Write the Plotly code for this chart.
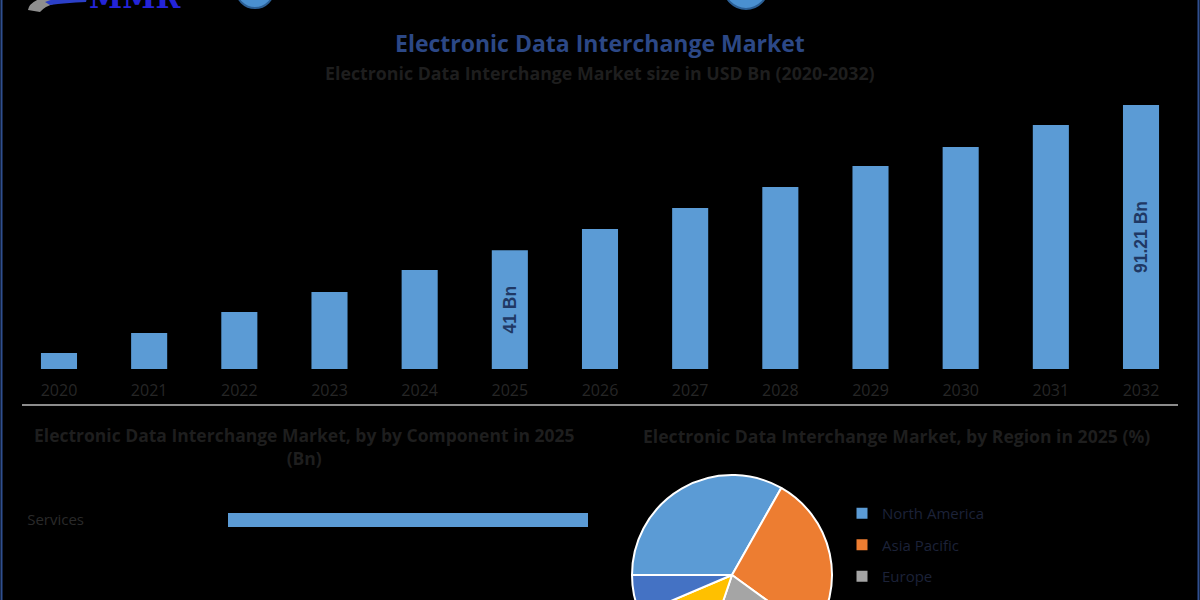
import plotly.graph_objects as go

# ---------------- data ----------------
years = ["2020", "2021", "2022", "2023", "2024", "2025", "2026",
         "2027", "2028", "2029", "2030", "2031", "2032"]
market_size = [5.5, 12.4, 19.7, 26.6, 34.2, 41.0, 48.4,
               55.6, 62.9, 70.1, 76.7, 84.3, 91.21]
bar_labels = ["", "", "", "", "", "41 Bn", "", "", "", "", "", "", "91.21 Bn"]

components = ["Services"]
component_values = [24.6]

regions = ["North America", "Asia Pacific", "Europe",
           "Middle East and Africa", "South America"]
region_share = [33.2, 26.8, 20.2, 13.4, 6.4]
region_colors = ["#5B9BD5", "#ED7D31", "#A5A5A5", "#FFC000", "#4472C4"]

title_main = "Electronic Data Interchange Market"
title_sub = "Electronic Data Interchange Market size in USD Bn (2020-2032)"
title_comp = "Electronic Data Interchange Market, by by Component in 2025<br>(Bn)"
title_region = "Electronic Data Interchange Market, by Region in 2025 (%)"

# ---------------- layout helpers ----------------
W, H = 1200, 700


def px(x):
    return x / W


def py(y):
    return 1 - y / H


BAR_COLOR = "#5B9BD5"
FONT = "Open Sans"

fig = go.Figure()

# top bar chart
fig.add_trace(go.Bar(
    x=years, y=market_size, width=0.4,
    marker=dict(color=BAR_COLOR, line=dict(width=0)),
    text=bar_labels, textposition="inside", insidetextanchor="middle",
    textangle=-90,
    textfont=dict(family="Liberation Sans", size=17.5, color="#1F3864", weight="bold"),
    xaxis="x", yaxis="y", showlegend=False, hoverinfo="x+y",
))

# bottom-left horizontal bar chart
fig.add_trace(go.Bar(
    x=component_values, y=components, orientation="h", width=0.35,
    marker=dict(color=BAR_COLOR, line=dict(width=0)),
    xaxis="x2", yaxis="y2", showlegend=False,
))

# pie
fig.add_trace(go.Pie(
    labels=regions, values=region_share, sort=False, direction="clockwise",
    rotation=270, textinfo="none", showlegend=False,
    marker=dict(colors=region_colors, line=dict(color="#FFFFFF", width=2)),
    domain=dict(x=[px(632), px(832)], y=[py(675), py(475)]),
))

# legend entries for the regions
for name, col in zip(regions, region_colors):
    fig.add_trace(go.Scatter(
        x=[None], y=[None], mode="markers", name=name, legendgroup=name,
        marker=dict(symbol="square", size=11, color=col),
        xaxis="x", yaxis="y", showlegend=True,
    ))

annotations = [
    dict(text=f"<b>{title_main}</b>", x=0.5, y=py(43), xref="paper", yref="paper",
         showarrow=False, font=dict(family=FONT, size=23, color="#2C4886"),
         xanchor="center", yanchor="middle"),
    dict(text=f"<b>{title_sub}</b>", x=0.5, y=py(73), xref="paper", yref="paper",
         showarrow=False, font=dict(family=FONT, size=17.8, color="#1E1E1E"),
         xanchor="center", yanchor="middle"),
    dict(text=f"<b>{title_comp}</b>", x=px(304), y=py(446), xref="paper", yref="paper",
         showarrow=False, font=dict(family=FONT, size=17.5, color="#1E1E1E"),
         xanchor="center", yanchor="middle"),
    dict(text=f"<b>{title_region}</b>", x=px(896), y=py(436), xref="paper", yref="paper",
         showarrow=False, font=dict(family=FONT, size=17.6, color="#1E1E1E"),
         xanchor="center", yanchor="middle"),
    dict(text="<b>MMR</b>", x=px(135), y=py(17), xref="paper", yref="paper",
         showarrow=False, font=dict(family="DejaVu Serif", size=30, color="#2424D8"),
         xanchor="center", yanchor="bottom"),
]

shapes = [
    # separator line
    dict(type="line", xref="paper", yref="paper", x0=px(22), x1=px(1178),
         y0=py(405), y1=py(405), line=dict(color="#8C8C8C", width=2)),
    # frame edges
    dict(type="line", xref="paper", yref="paper", x0=px(1.5), x1=px(1.5),
         y0=py(0), y1=py(600), line=dict(color="#2F4F8F", width=2)),
    dict(type="line", xref="paper", yref="paper", x0=px(1198.5), x1=px(1198.5),
         y0=py(0), y1=py(600), line=dict(color="#2F4F8F", width=2)),
    # header decorations
    dict(type="circle", xref="paper", yref="paper", x0=px(236), x1=px(274),
         y0=py(8), y1=py(-30), fillcolor="#4A90D0", line=dict(color="#2B5F95", width=2)),
    dict(type="circle", xref="paper", yref="paper", x0=px(724), x1=px(768),
         y0=py(9), y1=py(-35), fillcolor="#4A90D0", line=dict(color="#2B5F95", width=2)),
    dict(type="path", xref="paper", yref="paper",
         path=f"M {px(28)} {py(10)} Q {px(30)} {py(-5)} {px(80)} {py(-8)} "
              f"L {px(85)} {py(0)} Q {px(50)} {py(0)} {px(40)} {py(12)} Z",
         fillcolor="#8E8E8E", line=dict(width=0)),
    dict(type="path", xref="paper", yref="paper",
         path=f"M {px(45)} {py(2)} Q {px(60)} {py(-4)} {px(88)} {py(-6)} "
              f"L {px(86)} {py(2)} Q {px(65)} {py(3)} {px(50)} {py(5)} Z",
         fillcolor="#2B3FC8", line=dict(width=0)),
]

fig.update_layout(
    width=W, height=H,
    margin=dict(l=0, r=0, t=0, b=0),
    paper_bgcolor="#000000", plot_bgcolor="#000000",
    font=dict(family=FONT, color="#262626"),
    xaxis=dict(domain=[px(13.9), px(1186.1)], type="category",
               range=[-0.5, len(years) - 0.5],
               showgrid=False, zeroline=False, showline=False, ticks="",
               tickfont=dict(family=FONT, size=16, color="#262626"),
               ticklabelstandoff=10),
    yaxis=dict(domain=[py(369), py(105)], range=[0, max(market_size)],
               visible=False),
    xaxis2=dict(domain=[px(228), px(588)], range=[0, max(component_values)],
                visible=False, anchor="y2"),
    yaxis2=dict(domain=[py(540), py(500)], range=[-0.5, 0.5], type="category",
                anchor="x2", showgrid=False, zeroline=False, showline=False,
                ticks="", ticklabelstandoff=143,
                tickfont=dict(family=FONT, size=15, color="#2A2A2A")),
    legend=dict(x=px(842), y=py(497), xanchor="left", yanchor="top",
                bgcolor="rgba(0,0,0,0)", tracegroupgap=9, itemwidth=30,
                font=dict(family=FONT, size=15, color="#1C2238")),
    annotations=annotations,
    shapes=shapes,
    bargap=0.6,
)

fig.write_html("out.html",
               post_script="document.body.style.margin='0';document.body.style.overflow='hidden';")
